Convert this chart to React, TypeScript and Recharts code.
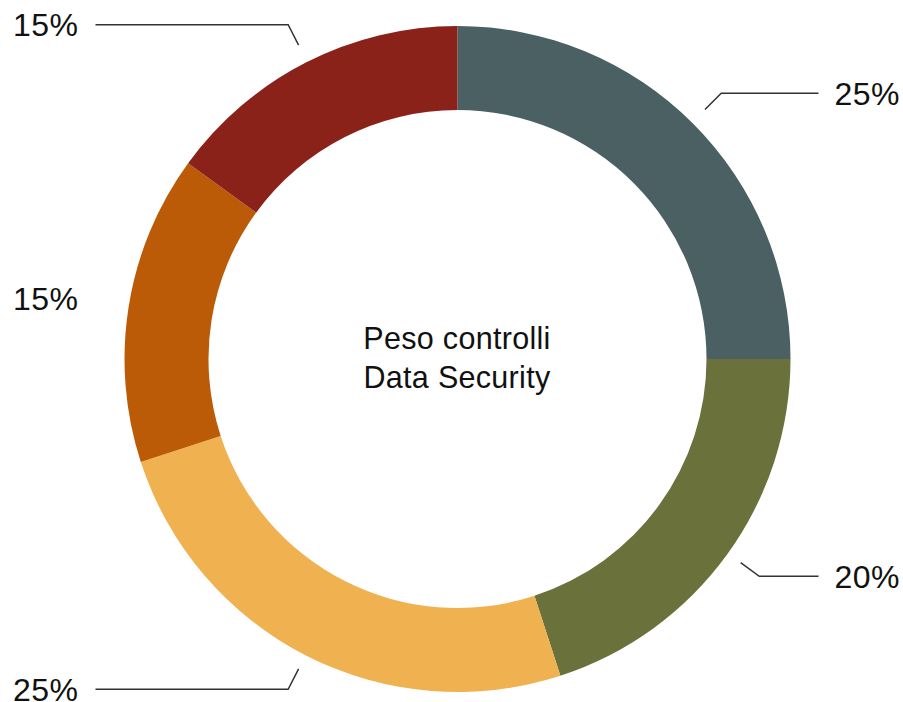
import React from "react";
import { PieChart, Pie, Cell } from "recharts";

const categories = ["A", "B", "C", "D", "E"];
const weights = [25, 20, 25, 15, 15];
const labels = ["25%", "20%", "25%", "15%", "15%"];
const colors = ["#4a6062", "#6b713b", "#f0b250", "#bc5b07", "#8b221a"];
const centerLines = ["Peso controlli", "Data Security"];

const data = categories.map((c, i) => ({ name: c, value: weights[i], label: labels[i] }));

const RAD = Math.PI / 180;
const FONT = "'Liberation Sans', Arial, Helvetica, sans-serif";

const renderLabel = (props: any) => {
  const { cx, cy, midAngle, outerRadius, index } = props;
  const cos = Math.cos(-midAngle * RAD);
  const sin = Math.sin(-midAngle * RAD);
  const lcy = cy - 2;
  const r1 = outerRadius + 17;
  const r2 = outerRadius + 40;
  const sx = cx + r1 * cos;
  const sy = lcy + r1 * sin;
  const ex = cx + r2 * cos;
  const ey = lcy + r2 * sin;
  const right = cos >= 0;
  const hx = right ? cx + 361 : cx - 362;
  const tx = right ? cx + 377 : cx - 379;
  const showLine = right ? ex < hx - 10 : ex > hx + 10;
  return (
    <g key={`lbl-${index}`}>
      {showLine && (
        <polyline
          points={`${sx},${sy} ${ex},${ey} ${hx},${ey}`}
          fill="none"
          stroke="#333"
          strokeWidth={1.5}
        />
      )}
      <text
        x={tx}
        y={ey + 11.5}
        textAnchor={right ? "start" : "end"}
        fill="#111"
        fontSize={32}
        fontFamily={FONT}
        letterSpacing={0.5}
      >
        {labels[index]}
      </text>
    </g>
  );
};

export default function App() {
  return (
    <div style={{ position: "absolute", left: 0, top: 0, width: 903, height: 702, background: "#fff" }}>
      <PieChart width={903} height={702} margin={{ top: 0, right: 0, bottom: 0, left: 0 }}>
        <Pie
          data={data}
          dataKey="value"
          cx={457.5}
          cy={359}
          innerRadius={249}
          outerRadius={333}
          startAngle={90}
          endAngle={-270}
          stroke="none"
          label={renderLabel}
          labelLine={false}
          isAnimationActive={false}
        >
          {data.map((d, i) => (
            <Cell key={d.name} fill={colors[i]} stroke="none" />
          ))}
        </Pie>
        <text x={457} y={349} textAnchor="middle" fontSize={30.5} letterSpacing={0.3} fontFamily={FONT} fill="#111">
          {centerLines[0]}
        </text>
        <text x={457} y={388} textAnchor="middle" fontSize={30.5} letterSpacing={0.3} fontFamily={FONT} fill="#111">
          {centerLines[1]}
        </text>
      </PieChart>
    </div>
  );
}
